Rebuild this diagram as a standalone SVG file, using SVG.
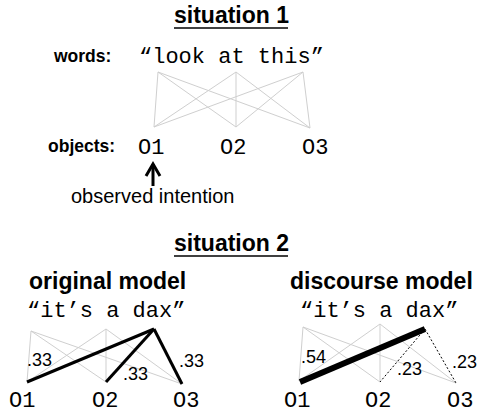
<svg xmlns="http://www.w3.org/2000/svg" width="477" height="414" viewBox="0 0 477 414">
<style>
.title{font-family:"Liberation Sans",Arial,sans-serif;font-weight:bold;font-size:23px;fill:#000}
.lbl{font-family:"Liberation Sans",Arial,sans-serif;font-weight:bold;font-size:17.5px;fill:#000}
.mono{font-family:"Liberation Mono","Courier New",monospace;font-size:22px;fill:#000}
.txt{font-family:"Liberation Sans",Arial,sans-serif;font-size:20px;fill:#000}
.num{font-family:"Liberation Sans",Arial,sans-serif;font-size:18px;fill:#000}
.g{stroke:#cfcfcf;stroke-width:1;fill:none}
.thick{stroke:#000;stroke-width:3;fill:none;stroke-linecap:butt}
.xthick{stroke:#000;stroke-width:6;fill:none}
.dot{stroke:#000;stroke-width:1;stroke-dasharray:2,2;fill:none}
.arrow{stroke:#000;stroke-width:3;fill:none}
</style>

<g id="title1">
<text class="title" x="174" y="23">situation 1</text>
<line x1="174" y1="28" x2="288" y2="28" stroke="#000" stroke-width="1.6"/>
</g>
<g id="words-label"><text class="lbl" x="54" y="62">words:</text></g>
<g id="words1"><text class="mono" x="139" y="63">“look at this”</text></g>
<g id="objects-label"><text class="lbl" x="48" y="152">objects:</text></g>
<g id="s1-o1"><text class="mono" x="138" y="154">O1</text></g>
<g id="s1-o2"><text class="mono" x="220" y="154">O2</text></g>
<g id="s1-o3"><text class="mono" x="302" y="154">O3</text></g>
<g id="intention"><text class="txt" x="71" y="203">observed intention</text></g>

<g id="title2">
<text class="title" x="174" y="251">situation 2</text>
<line x1="174" y1="256" x2="288" y2="256" stroke="#000" stroke-width="1.6"/>
</g>
<g id="orig-title"><text class="title" x="29" y="289">original model</text></g>
<g id="orig-words"><text class="mono" x="27" y="317">“it’s a dax”</text></g>
<g id="orig-o1"><text class="mono" x="9" y="407">O1</text></g>
<g id="orig-o2"><text class="mono" x="92" y="407">O2</text></g>
<g id="orig-o3"><text class="mono" x="173" y="407">O3</text></g>

<g id="disc-title"><text class="title" x="290" y="289">discourse model</text></g>
<g id="disc-words"><text class="mono" x="300" y="317">“it’s a dax”</text></g>
<g id="disc-o1"><text class="mono" x="284" y="407">O1</text></g>
<g id="disc-o2"><text class="mono" x="365" y="407">O2</text></g>
<g id="disc-o3"><text class="mono" x="447" y="407">O3</text></g>

<g id="connectors">
<!-- situation 1 -->
<line class="g" x1="158" y1="72" x2="154" y2="127"/>
<line class="g" x1="158" y1="72" x2="236" y2="127"/>
<line class="g" x1="158" y1="72" x2="310" y2="128"/>
<line class="g" x1="236" y1="72" x2="154" y2="127"/>
<line class="g" x1="236" y1="72" x2="236" y2="127"/>
<line class="g" x1="236" y1="72" x2="310" y2="128"/>
<line class="g" x1="303" y1="72" x2="154" y2="127"/>
<line class="g" x1="303" y1="72" x2="236" y2="127"/>
<line class="g" x1="303" y1="72" x2="310" y2="128"/>
<line class="arrow" x1="153" y1="186" x2="153" y2="164"/>
<path class="arrow" d="M146,176 L153,164 L160,176"/>

<!-- original model -->
<line class="g" x1="31" y1="331" x2="27" y2="382"/>
<line class="g" x1="31" y1="331" x2="106" y2="382"/>
<line class="g" x1="31" y1="331" x2="182" y2="384"/>
<line class="g" x1="106" y1="329" x2="27" y2="382"/>
<line class="g" x1="106" y1="329" x2="106" y2="382"/>
<line class="g" x1="106" y1="329" x2="182" y2="384"/>
<line class="thick" x1="154" y1="329" x2="27" y2="382"/>
<line class="thick" x1="154" y1="329" x2="106" y2="382"/>
<line class="thick" x1="154" y1="329" x2="182" y2="384"/>

<!-- discourse model -->
<line class="g" x1="303" y1="327" x2="299" y2="381"/>
<line class="g" x1="303" y1="327" x2="380" y2="382"/>
<line class="g" x1="303" y1="327" x2="456" y2="383"/>
<line class="g" x1="380" y1="324" x2="299" y2="381"/>
<line class="g" x1="380" y1="324" x2="380" y2="382"/>
<line class="g" x1="380" y1="324" x2="456" y2="383"/>
<line class="xthick" x1="425" y1="329" x2="300" y2="382"/>
<line class="dot" x1="425" y1="329" x2="380" y2="382"/>
<line class="dot" x1="425" y1="329" x2="456" y2="383"/>
</g>

<g id="weights">
<text class="num" x="27" y="366">.33</text>
<text class="num" x="123" y="380">.33</text>
<text class="num" x="179" y="367">.33</text>
<text class="num" x="301" y="363">.54</text>
<text class="num" x="397" y="375">.23</text>
<text class="num" x="452" y="368">.23</text>
</g>
</svg>
